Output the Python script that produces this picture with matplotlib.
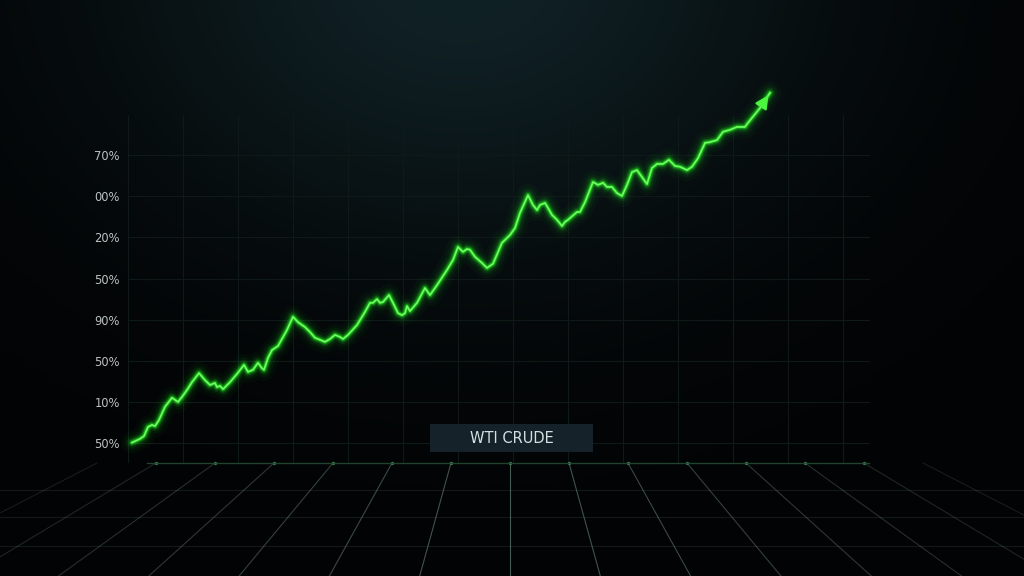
import numpy as np
import matplotlib
matplotlib.use("Agg")
import matplotlib.pyplot as plt
from matplotlib.patches import Rectangle

# ---------------- data ----------------
days = [0, 8, 12, 16, 20, 23, 27, 33, 40, 43, 46, 50, 55, 60, 67, 73, 78, 83, 85, 88,
        91, 98, 105, 112, 116, 121, 126, 130, 132, 136, 140, 146, 155, 161, 166, 173, 178, 183, 188, 193,
        198, 203, 208, 211, 216, 225, 233, 238, 241, 245, 248, 251, 257, 261, 266, 270, 273, 275, 278, 285,
        293, 298, 305, 315, 321, 326, 331, 335, 338, 343, 350, 355, 361, 370, 378, 383, 388, 396, 401, 405,
        408, 413, 416, 420, 425, 430, 433, 436, 445, 448, 453, 461, 466, 471, 475, 480, 485, 490, 495, 500,
        505, 510, 515, 520, 525, 531, 537, 543, 548, 555, 560, 566, 573, 578, 585, 591, 598, 605, 613, 616,
        628, 638]
values = [0.1, 1.0, 1.7, 3.9, 4.4, 4.1, 5.6, 8.8, 11.0, 10.5, 10.0, 11.2, 12.9, 14.8, 17.0, 15.3, 14.1, 14.6, 13.6, 13.9,
          13.1, 14.8, 16.8, 19.0, 17.3, 17.8, 19.5, 18.2, 17.8, 20.7, 22.6, 23.6, 27.5, 30.7, 29.4, 28.2, 27.0, 25.6, 25.1, 24.6,
          25.3, 26.3, 25.8, 25.3, 26.3, 28.7, 31.9, 34.1, 34.1, 35.0, 34.1, 34.3, 36.0, 34.1, 31.6, 31.1, 31.6, 33.3, 32.1, 34.1,
          37.7, 36.0, 38.4, 42.1, 44.5, 47.7, 46.5, 47.2, 47.0, 45.3, 43.8, 42.6, 43.6, 48.7, 50.6, 52.3, 56.0, 60.3, 57.9, 56.7,
          57.9, 58.4, 57.2, 55.5, 54.3, 52.8, 53.8, 54.3, 56.2, 56.2, 58.6, 63.5, 62.8, 63.3, 62.3, 62.3, 60.8, 60.1, 62.8, 65.9,
          66.4, 64.7, 63.0, 66.9, 67.9, 67.9, 68.9, 67.4, 67.2, 66.4, 67.2, 69.3, 73.0, 73.2, 73.7, 75.7, 76.2, 76.9, 76.9, 77.9,
          81.5, 85.2]
ytick_values = [0, 10, 20, 30, 40, 50, 60, 70]
ytick_labels = ["50%", "10%", "50%", "90%", "50%", "20%", "00%", "70%"]
series_label = "WTI CRUDE"

W, H = 1024, 576
fig = plt.figure(figsize=(W / 100, H / 100), dpi=100)
fig.patch.set_facecolor("#020304")

# ---------------- background gradient ----------------
bg = fig.add_axes([0, 0, 1, 1], zorder=0)
yy, xx = np.mgrid[0:H, 0:W]
g = np.exp(-((xx - 460) / 360.0) ** 2 - ((yy + 30) / 280.0) ** 2)
c0 = np.array([0x02, 0x03, 0x04]) / 255.0
c1 = np.array([0x10, 0x21, 0x25]) / 255.0
img = c0[None, None, :] + (c1 - c0)[None, None, :] * g[:, :, None]
bg.imshow(img, extent=(0, W, H, 0), aspect="auto")
bg.set_xlim(0, W)
bg.set_ylim(H, 0)
bg.axis("off")

# ---------------- chart axes ----------------
left_px, right_px, top_px, bot_px = 128, 870, 115, 463
ax = fig.add_axes([left_px / W, (H - bot_px) / H, (right_px - left_px) / W, (bot_px - top_px) / H], zorder=2)
ax.set_facecolor("none")
ax.set_xlim(-4, 738)
ax.set_ylim(-4.87, 79.8)
for s in ax.spines.values():
    s.set_visible(False)

for gx in np.arange(-4, 740, 55):
    ax.axvline(gx, color="#0e1918", lw=0.8, zorder=0)
for gy in range(0, 81, 10):
    ax.axhline(gy, color="#0e1918", lw=0.8, zorder=0)

ax.set_xticks([])
ax.set_yticks(ytick_values)
ax.set_yticklabels(ytick_labels, color="#bcc2c2", fontsize=8.3)
ax.tick_params(axis="y", length=0, pad=6)

# neon glow
for lw, a in [(16, 0.035), (11, 0.06), (7.5, 0.11), (5, 0.22), (3.2, 0.42)]:
    ax.plot(days, values, color="#1ee61e", lw=lw, alpha=a, solid_capstyle="round",
            solid_joinstyle="round", clip_on=False, zorder=3)
ax.plot(days, values, color="#4cf540", lw=1.5, solid_joinstyle="round", clip_on=False, zorder=4)
ax.plot(days, values, color="#b8ffa8", lw=0.5, alpha=0.6, solid_joinstyle="round", clip_on=False, zorder=5)
ax.annotate("", xy=(days[-1], values[-1]), xytext=(days[-2], values[-2]),
            arrowprops=dict(arrowstyle="-|>,head_length=0.8,head_width=0.4", color="#4cf540", lw=1.5),
            annotation_clip=False, zorder=6)

# ---------------- floor overlay ----------------
ov = fig.add_axes([0, 0, 1, 1], zorder=3)
ov.set_facecolor("none")
ov.set_xlim(0, W)
ov.set_ylim(H, 0)
ov.axis("off")

vx, vy = 510, 250
hy = 463
spacing = 59
for fy in [490, 517, 546]:
    ov.plot([0, W], [fy, fy], color="#111a18", lw=0.8)
for k in range(-7, 8):
    hx = vx + k * spacing
    t = (H - vy) / (hy - vy)
    bx = vx + (hx - vx) * t
    a = max(0.12, 0.5 - 0.05 * abs(k))
    ov.plot([hx, bx], [hy, H], color="#8fb3a0", lw=0.8, alpha=a)
    if -6 <= k <= 6:
        ov.plot([hx], [hy], marker="o", ms=1.4, color="#3f8a52", alpha=0.9)
ov.plot([147, 869], [hy, hy], color="#244a33", lw=1.0, alpha=0.9)

# label box
ov.add_patch(Rectangle((430, 424), 163, 28, facecolor="#15222a", edgecolor="none", zorder=5))
ov.text(511.5, 438.5, series_label, color="#d5e0e2", fontsize=10.5, ha="center", va="center", zorder=6)

fig.savefig("out.png", dpi=100, facecolor=fig.get_facecolor())
